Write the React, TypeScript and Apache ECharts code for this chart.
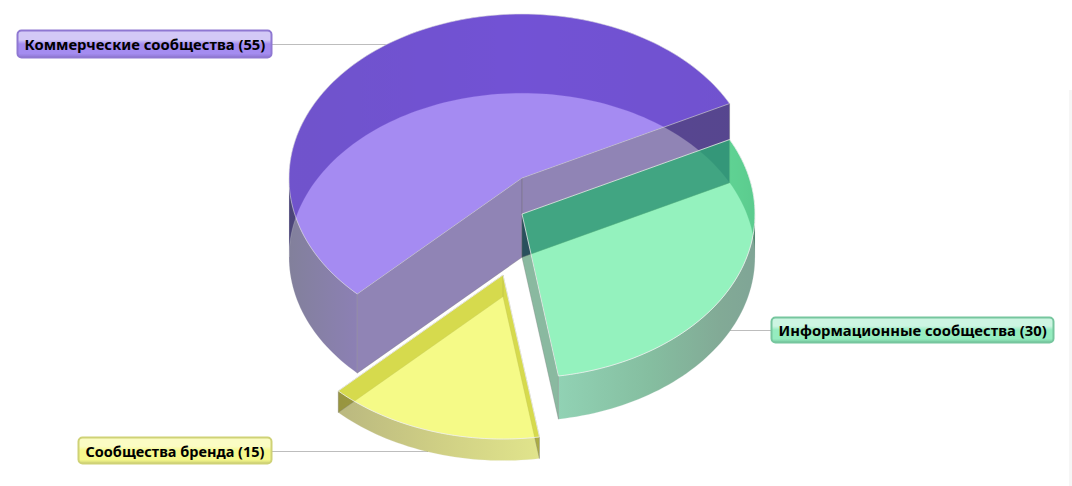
import React, { useEffect, useRef } from "react";
import * as echarts from "echarts";

const categories = ["Коммерческие сообщества", "Информационные сообщества", "Сообщества бренда"];
const values = [55, 30, 15];
const offsets = [[0, 0], [0, 36], [-19, 97]];
const topColors = ["rgba(91,44,231,0.55)", "rgba(60,231,137,0.55)", "rgba(237,246,37,0.55)"];
const topStrokes = ["rgba(225,225,225,0.6)", "rgba(240,240,240,0.85)", "rgba(240,240,240,0.85)"];
const radialRgb = [["33,9,107", "33,9,107"], ["0,36,63", "21,115,65"], ["117,113,0", "117,113,0"]];
const backStops: [number, string][][] = [
  [[289, "rgba(20,10,85,0.5)"], [522, "rgba(30,0,125,0.5)"], [729, "rgba(24,6,100,0.5)"]],
  [[729, "rgba(21,115,65,0.5)"], [755, "rgba(5,85,45,0.5)"]],
  [[338, "rgba(117,113,0,0.5)"], [540, "rgba(117,113,0,0.5)"]],
];
const frontStops: [number, string][][] = [
  [[289, "rgba(5,0,55,0.5)"], [357, "rgba(25,1,105,0.5)"]],
  [[558, "rgba(35,165,105,0.5)"], [650, "rgba(11,125,65,0.5)"], [720, "rgba(5,85,45,0.5)"], [755, "rgba(0,75,45,0.5)"]],
  [[338, "rgba(117,113,0,0.5)"], [440, "rgba(160,160,10,0.5)"], [540, "rgba(190,198,10,0.47)"]],
];
const labelBoxes = [
  { x: 17.5, y: 30.5, w: 254, h: 27, size: 14.8, light: "#d3c9f6", base: "#a48cf0", edge: "#8f78d2" },
  { x: 771.5, y: 317.5, w: 282, h: 25, size: 14.8, light: "#cdf5e2", base: "#95ecbf", edge: "#76c69e" },
  { x: 78.5, y: 437.5, w: 193, h: 26, size: 14.5, light: "#fbfcc4", base: "#f5f88c", edge: "#cfd276" },
];
const leaders = [
  [272, 44, 388, 44],
  [730, 330, 771, 330],
  [272, 451, 428, 451],
];

const CX = 522;
const CY = 178;
const RX = 233;
const RY = 164;
const DEPTH_PER_UNIT = 1.44;
const START_ANGLE = 135;

function pt(cx: number, cy: number, deg: number) {
  const r = (deg * Math.PI) / 180;
  return [cx + RX * Math.cos(r), cy + RY * Math.sin(r)];
}

function arc(cx: number, cy: number, a0: number, a1: number) {
  const pts: number[][] = [];
  const n = Math.max(2, Math.ceil(Math.abs(a1 - a0) / 1.5));
  for (let i = 0; i <= n; i++) pts.push(pt(cx, cy, a0 + ((a1 - a0) * i) / n));
  return pts;
}

function wallFill(stops: [number, string][]) {
  const x0 = stops[0][0];
  const x1 = stops[stops.length - 1][0];
  return new echarts.graphic.LinearGradient(
    x0,
    0,
    x1,
    0,
    stops.map(([x, color]) => ({ offset: (x - x0) / (x1 - x0), color })),
    true
  );
}

function renderSlice(params: any, api: any) {
  const i = params.dataIndex;
  const total = values.reduce((a, b) => a + b, 0);
  const before = values.slice(0, i).reduce((a, b) => a + b, 0);
  const a0 = START_ANGLE + (before / total) * 360;
  const a1 = a0 + (api.value(0) / total) * 360;
  const cx = CX + offsets[i][0];
  const cy = CY + offsets[i][1];
  const d = api.value(0) * DEPTH_PER_UNIT;
  const children: any[] = [];

  const cuts = [a0];
  for (let k = 0; k * 180 < a1; k++) if (k * 180 > a0) cuts.push(k * 180);
  cuts.push(a1);
  for (let c = 0; c < cuts.length - 1; c++) {
    const mid = ((cuts[c] + cuts[c + 1]) / 2) % 360;
    const isBack = mid > 180;
    const top = arc(cx, cy, cuts[c], cuts[c + 1]);
    const bottom = arc(cx, cy + d, cuts[c + 1], cuts[c]);
    children.push({
      type: "polygon",
      shape: { points: [...top, ...bottom] },
      style: {
        fill: wallFill(isBack ? backStops[i] : frontStops[i]),
        stroke: "rgba(235,235,235,0.35)",
        lineWidth: 0.6,
      },
    });
  }
  [a1, a0].forEach((a, w) => {
    const e = pt(cx, cy, a);
    children.push({
      type: "polygon",
      shape: { points: [[cx, cy], e, [e[0], e[1] + d], [cx, cy + d]] },
      style: { fill: `rgba(${radialRgb[i][1 - w]},0.5)`, stroke: "rgba(120,120,120,0.4)", lineWidth: 0.8 },
    });
  });
  children.push({
    type: "polygon",
    shape: { points: [[cx, cy], ...arc(cx, cy, a0, a1)] },
    style: { fill: topColors[i], stroke: topStrokes[i], lineWidth: 0.9 },
  });
  return { type: "group", children };
}

export default function App() {
  const ref = useRef<HTMLDivElement>(null);
  useEffect(() => {
    const chart = echarts.init(ref.current!, null, { renderer: "svg" });
    const graphic: any[] = [
      { type: "rect", z: 0, shape: { x: 1069, y: 90, width: 3, height: 396 }, style: { fill: "#f6f6f6" } },
    ];
    leaders.forEach((l) =>
      graphic.push({
        type: "line",
        z: 0,
        shape: { x1: l[0], y1: l[1] + 0.5, x2: l[2], y2: l[3] + 0.5 },
        style: { stroke: "#bdbdbd", lineWidth: 1 },
      })
    );
    labelBoxes.forEach((b, i) => {
      graphic.push({
        type: "rect",
        z: 10,
        shape: { x: b.x, y: b.y, width: b.w, height: b.h, r: 4 },
        style: {
          fill: new echarts.graphic.LinearGradient(0, 0, 0, 1, [
            { offset: 0, color: b.light },
            { offset: 0.34, color: b.light },
            { offset: 0.5, color: b.base },
            { offset: 0.85, color: b.base },
            { offset: 1, color: b.edge },
          ]),
          stroke: b.edge,
          lineWidth: 2,
        },
      });
      graphic.push({
        type: "text",
        z: 11,
        x: b.x + 7,
        y: b.y + b.h / 2,
        style: {
          text: `${categories[i]} (${values[i]})`,
          fill: "#000",
          font: `bold ${b.size}px "Noto Sans"`,
          textAlign: "left",
          textVerticalAlign: "middle",
        },
      });
    });
    chart.setOption({
      animation: false,
      backgroundColor: "#fff",
      graphic,
      series: [
        {
          type: "custom",
          coordinateSystem: "none",
          silent: true,
          z: 5,
          data: values.map((v) => [v]),
          renderItem: renderSlice,
        },
      ],
    });
    return () => chart.dispose();
  }, []);
  return <div ref={ref} style={{ position: "absolute", left: 0, top: 0, width: 1072, height: 486 }} />;
}
